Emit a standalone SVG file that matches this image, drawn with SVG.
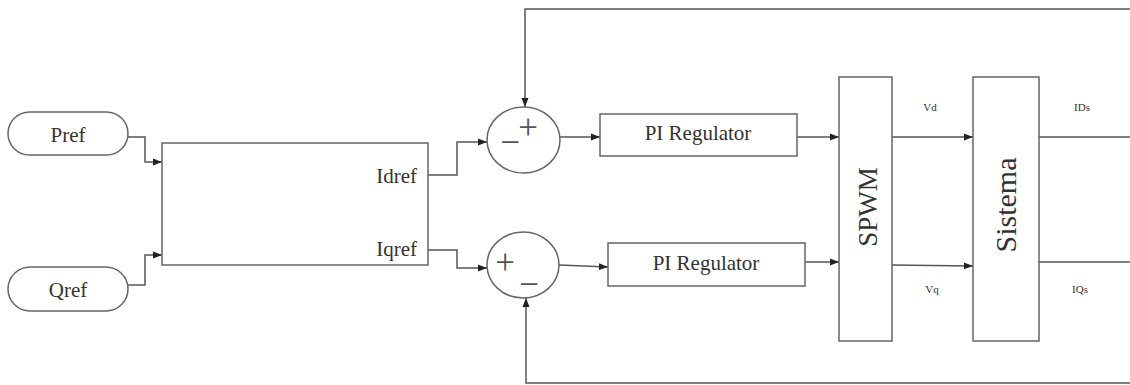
<svg xmlns="http://www.w3.org/2000/svg" width="1130" height="385" viewBox="0 0 1130 385">
<style>
.box{fill:#fff;stroke:#666;stroke-width:1.5}
.ln{fill:none;stroke:#555;stroke-width:1.5}
.t{font-family:"Liberation Serif","Times New Roman",serif;fill:#333}
.sm{font-size:11px;text-anchor:middle}
.md{font-size:21px}
.sg{font-family:"Liberation Serif",serif;font-size:35px;fill:#555;text-anchor:middle;dominant-baseline:central}
</style>
<defs>
<marker id="ar" markerUnits="userSpaceOnUse" markerWidth="10" markerHeight="8" refX="9" refY="4" orient="auto">
<path d="M0,0.5 L9,4 L0,7.5 Z" fill="#222"/>
</marker>
</defs>
<rect width="1130" height="385" fill="#fff"/>
<g id="connectors">
<path class="ln" d="M128,137 H145 V162 H162" marker-end="url(#ar)"/>
<path class="ln" d="M128,285 H145 V255 H162" marker-end="url(#ar)"/>
<path class="ln" d="M428,175 H457 V142 H487" marker-end="url(#ar)"/>
<path class="ln" d="M428,250 H457 V268 H487" marker-end="url(#ar)"/>
<path class="ln" d="M560,137 H600" marker-end="url(#ar)"/>
<path class="ln" d="M559,265 L608,267" marker-end="url(#ar)"/>
<path class="ln" d="M797,137 H839" marker-end="url(#ar)"/>
<path class="ln" d="M805,262 H839" marker-end="url(#ar)"/>
<path class="ln" d="M892,137 H973" marker-end="url(#ar)"/>
<path class="ln" d="M892,265 L973,266" marker-end="url(#ar)"/>
<path class="ln" d="M1039,137 H1130"/>
<path class="ln" d="M1039,262 H1130"/>
<path class="ln" d="M1130,9 H525 V107" marker-end="url(#ar)"/>
<path class="ln" d="M1130,383 H526 V298" marker-end="url(#ar)"/>
</g>
<g id="pref">
<rect class="box" x="8" y="112" width="120" height="43" rx="21.5"/>
<text class="t md" x="68" y="142" text-anchor="middle">Pref</text>
</g>
<g id="qref">
<rect class="box" x="8" y="267" width="120" height="44" rx="22"/>
<text class="t md" x="68" y="297" text-anchor="middle">Qref</text>
</g>
<g id="calc">
<rect class="box" x="162" y="143" width="266" height="122"/>
<text class="t md" x="417" y="183" text-anchor="end">Idref</text>
<text class="t md" x="417" y="256" text-anchor="end">Iqref</text>
</g>
<g id="sum1">
<ellipse class="box" cx="523.5" cy="140" rx="36.5" ry="33"/>
<text class="sg" x="528" y="127">+</text>
<text class="sg" x="510" y="142">−</text>
</g>
<g id="sum2">
<ellipse class="box" cx="523" cy="265" rx="36" ry="33"/>
<text class="sg" x="505" y="262">+</text>
<text class="sg" x="529" y="284">−</text>
</g>
<g id="pi1">
<rect class="box" x="600" y="114" width="197" height="42"/>
<text class="t md" x="698" y="140" text-anchor="middle">PI Regulator</text>
</g>
<g id="pi2">
<rect class="box" x="608" y="243" width="197" height="43"/>
<text class="t md" x="706" y="270" text-anchor="middle">PI Regulator</text>
</g>
<g id="spwm">
<rect class="box" x="839" y="77" width="53" height="264"/>
<text class="t" font-size="27" x="868" y="207" text-anchor="middle" dominant-baseline="central" transform="rotate(-90 868 207)">SPWM</text>
</g>
<g id="sistema">
<rect class="box" x="973" y="77" width="66" height="264"/>
<text class="t" font-size="30" x="1005" y="205" text-anchor="middle" dominant-baseline="central" transform="rotate(-90 1005 205)">Sistema</text>
</g>
<g id="labels">
<text class="t sm" x="930" y="111">Vd</text>
<text class="t sm" x="932" y="293">Vq</text>
<text class="t sm" x="1082" y="111">IDs</text>
<text class="t sm" x="1080" y="293">IQs</text>
</g>
</svg>
